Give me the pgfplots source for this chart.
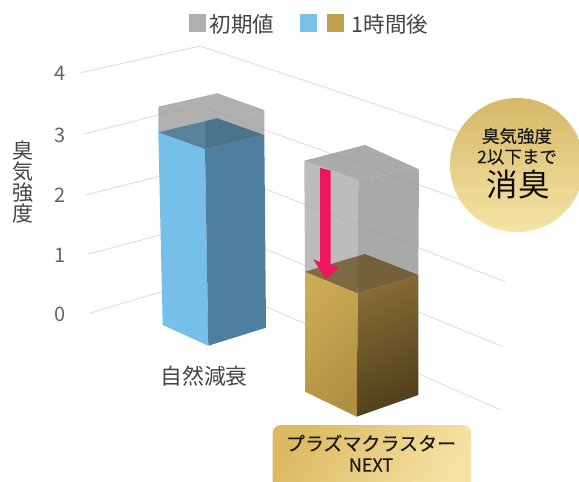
\documentclass[border=0pt]{standalone}
\usepackage{fontspec}
\setmainfont{Noto Sans CJK JP}
\newfontfamily\heavierfont[FakeBold=0.25]{Noto Sans CJK JP}
\usepackage{pgfplots}
\pgfplotsset{compat=1.18}
\newcommand{\px}[1]{\fontsize{#1bp}{1.15\dimexpr#1bp\relax}\selectfont}

\definecolor{gridc}{HTML}{DEDEDE}
\definecolor{txt}{HTML}{444444}
\definecolor{tickc}{HTML}{666666}
\definecolor{legGrey}{HTML}{AFAFAF}
\definecolor{legBlue}{HTML}{78C0E8}
\definecolor{legGold}{HTML}{C0A050}

\begin{document}
\begin{tikzpicture}
\clip[use as bounding box] (0,0) rectangle (579bp,482bp);
\begin{axis}[
  at={(0,0)}, anchor=south west,
  scale only axis, width=579bp, height=482bp,
  xmin=0, xmax=579, ymin=0, ymax=482, y dir=reverse,
  axis line style={draw=none}, major tick length=0pt,
  xtick=\empty,
  ytick={314,255,195,135,73},
  yticklabels={0,1\hspace{2bp},2\hspace{4bp},3\hspace{6bp},4\hspace{7.5bp}},
  /pgf/number format/assume math mode=true,
  yticklabel style={anchor=east, xshift=69bp, text=tickc, font=\px{20}},
  ylabel={\shortstack[c]{臭\\[-1.5bp]気\\[-1.5bp]強\\[-1.5bp]度}},
  ylabel style={at={(axis cs:23,182.5)}, anchor=center, rotate=-90, text=txt, font=\px{21}},
  every axis plot/.append style={forget plot},
]
% perspective floor and wall rulings, one polyline for each scale value
\addplot[gridc, line width=0.9bp] coordinates {(81,72.7) (200,46) (333,90) (470,136)};
\addplot[gridc, line width=0.9bp] coordinates {(83.3,134.3) (158,115) (201.7,106) (260,128.3) (470,203)};
\addplot[gridc, line width=0.9bp] coordinates {(85.3,195) (158,176.7) (203,165.4) (265,189) (419,248) (505,281.7)};
\addplot[gridc, line width=0.9bp] coordinates {(87.3,254.3) (160,235) (205,224) (265,249) (418,311.7) (502.7,346.7)};
\addplot[gridc, line width=0.9bp] coordinates {(89.3,313.3) (161.7,291.7) (207,278) (266,306.7) (417,373) (500.7,410)};

% initial level, translucent box, natural decay column
\addplot[draw=none, fill=black!39, fill opacity=0.8] coordinates {(158.3,106.7) (217.3,93.3) (264.3,110) (205,124)} -- cycle;
\addplot[draw=none, fill=black!38, fill opacity=0.8] coordinates {(158.3,106.7) (205,124) (205,149) (158.3,132.3)} -- cycle;
\addplot[draw=none, fill=black!39, fill opacity=0.8] coordinates {(205,124) (264.3,110) (264.3,135) (205,149)} -- cycle;

% natural decay column after one hour
\addplot[draw=none, fill={rgb,255:red,117;green,191;blue,232}] coordinates {(158.3,132.3) (205,149) (208.3,345.7) (162.7,325)} -- cycle;
\addplot[draw=none, fill={rgb,255:red,78;green,127;blue,158}] coordinates {(205,149) (264.3,135) (266,327.7) (208.3,345.7)} -- cycle;
\addplot[draw=none, fill={rgb,255:red,88;green,130;blue,155}] coordinates {(158.3,132.3) (205,121.2) (205,149)} -- cycle;
\addplot[draw=none, fill={rgb,255:red,76;green,115;blue,140}] coordinates {(205,121.2) (217.3,118.3) (264.3,135) (205,149)} -- cycle;

% initial level, translucent box, plasmacluster column
\addplot[draw=none, fill=black!41, fill opacity=0.8] coordinates {(304.3,160.7) (365,145) (419,169.3) (358.3,180)} -- cycle;
\addplot[draw=none, fill=black!33, fill opacity=0.8] coordinates {(304.3,160.7) (358.3,180) (357.7,293.3) (305,271.7)} -- cycle;
\addplot[draw=none, fill=black!42, fill opacity=0.8] coordinates {(358.3,180) (419,169.3) (418.3,275) (357.7,293.3)} -- cycle;

% plasmacluster column after one hour
\addplot[draw=none, top color={rgb,255:red,204;green,170;blue,86}, bottom color={rgb,255:red,176;green,144;blue,66}, shading angle=45] coordinates {(305,271.7) (357.7,293.3) (356.7,416.7) (305,391.7)} -- cycle;
\addplot[draw=none, top color={rgb,255:red,134;green,108;blue,52}, bottom color={rgb,255:red,80;green,63;blue,28}, shading angle=25] coordinates {(357.7,293.3) (418.3,275) (418.3,395) (356.7,416.7)} -- cycle;
\addplot[draw=none, fill={rgb,255:red,126;green,106;blue,66}] coordinates {(305,271.7) (358,256) (357.7,293.3)} -- cycle;
\addplot[draw=none, fill={rgb,255:red,116;green,97;blue,58}] coordinates {(358,256) (365,254) (418.3,275) (357.7,293.3)} -- cycle;

% drop from the initial level to the level after one hour
\addplot[draw=none, fill={rgb,255:red,238;green,20;blue,96}] coordinates {(320,167.7) (330.7,170.7) (330.7,265) (339.3,266.7) (325.7,279) (313.3,259.3) (320,262)} -- cycle;

% legend
\fill[legGrey] (axis cs:189,14) rectangle (axis cs:206,32);
\node[anchor=west, text=txt, font=\px{21.5}, inner sep=0pt] at (axis cs:209.5,24) {初期値};
\fill[legBlue] (axis cs:300,14) rectangle (axis cs:317,32);
\fill[legGold] (axis cs:327,14) rectangle (axis cs:344,32);
\node[anchor=west, text=txt, font=\px{21.5}, inner sep=0pt] at (axis cs:351.5,24) {1時間後};

% category names
\node[text=txt, font=\px{21.8}, inner sep=0pt] at (axis cs:204,376) {自然減衰};
\shade[rounded corners=8bp, top color={rgb,255:red,220;green,186;blue,98}, bottom color={rgb,255:red,245;green,226;blue,164}, shading angle=55]
  (axis cs:272.7,425) rectangle (axis cs:471,490);
\node[text=black!90, font=\heavierfont\px{19}, inner sep=0pt] at (axis cs:371,443) {プラズマクラスター};
\node[text=black!90, font=\heavierfont\px{18}, inner sep=0pt] at (axis cs:371,465) {NEXT};

% callout badge
\shade[top color={rgb,255:red,214;green,184;blue,104}, bottom color={rgb,255:red,245;green,228;blue,166}, shading angle=0]
  (axis cs:517,165) circle [radius=67bp];
\node[text=black!90, font=\heavierfont\px{17.5}, inner sep=0pt] at (axis cs:517,136) {臭気強度};
\node[text=black!90, font=\heavierfont\px{17.5}, inner sep=0pt] at (axis cs:517,157) {2以下まで};
\node[text=black!95, font=\px{31.5}, inner sep=0pt] at (axis cs:518,185) {消臭};
\end{axis}
\end{tikzpicture}
\end{document}
